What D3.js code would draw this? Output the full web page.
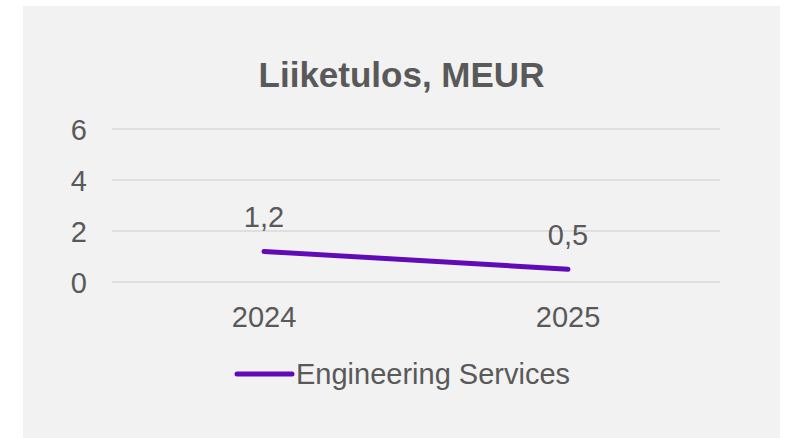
<!DOCTYPE html>
<html>
<head>
<meta charset="utf-8">
<script src="https://cdn.jsdelivr.net/npm/d3@7"></script>
<style>
  html, body { margin: 0; padding: 0; background: #ffffff; }
  svg { display: block; }
  text { font-family: "Liberation Sans", Arial, sans-serif; fill: #595959; }
</style>
</head>
<body>
<svg id="chart" width="790" height="438"></svg>
<script>
// Operating profit, MEUR
const title = "Liiketulos, MEUR";
const categories = ["2024", "2025"];
const seriesName = "Engineering Services";
const seriesValues = [1.2, 0.5];
const yTicks = [0, 2, 4, 6];

const panel = { x: 23, y: 6, w: 757, h: 432 };
const plot = { left: 112, right: 720, top: 129, bottom: 282 };
const lineColor = "#600ab8";
const gridColor = "#d9d9d9";
const fontSize = 29;

const fiLocale = d3.formatLocale({ decimal: ",", thousands: "\u00a0", grouping: [3], currency: ["", " €"] });
const fmt = fiLocale.format(".1f");

const svg = d3.select("#chart");

svg.append("rect")
  .attr("x", panel.x).attr("y", panel.y)
  .attr("width", panel.w).attr("height", panel.h)
  .attr("fill", "#f2f2f2");

const x = d3.scaleBand().domain(categories).range([plot.left, plot.right]);
const y = d3.scaleLinear().domain([0, 6]).range([plot.bottom, plot.top]);

// Title
svg.append("text")
  .attr("x", panel.x + panel.w / 2)
  .attr("y", 87)
  .attr("text-anchor", "middle")
  .style("font-size", "35px")
  .style("font-weight", "bold")
  .text(title);

// Gridlines
svg.append("g")
  .selectAll("line")
  .data(yTicks)
  .join("line")
  .attr("x1", plot.left).attr("x2", plot.right)
  .attr("y1", d => y(d)).attr("y2", d => y(d))
  .attr("stroke", gridColor)
  .attr("stroke-width", 1.5);

// Y axis
const yAxis = svg.append("g")
  .attr("transform", `translate(${plot.left},0)`)
  .call(d3.axisLeft(y).tickValues(yTicks).tickSize(0).tickPadding(25).tickFormat(d3.format("d")));
yAxis.select(".domain").remove();
yAxis.selectAll("text")
  .style("font-size", fontSize + "px")
  .attr("fill", "#595959")
  .attr("dy", "0.35em");

// X axis
const xAxis = svg.append("g")
  .attr("transform", `translate(0,${plot.bottom})`)
  .call(d3.axisBottom(x).tickSize(0).tickPadding(0));
xAxis.select(".domain").remove();
xAxis.selectAll("text")
  .style("font-size", fontSize + "px")
  .attr("fill", "#595959")
  .attr("dy", null)
  .attr("y", 45);

// Series line
const points = categories.map((c, i) => ({ c, v: seriesValues[i] }));
const line = d3.line()
  .x(d => x(d.c) + x.bandwidth() / 2)
  .y(d => y(d.v));

svg.append("path")
  .datum(points)
  .attr("d", line)
  .attr("fill", "none")
  .attr("stroke", lineColor)
  .attr("stroke-width", 5)
  .attr("stroke-linecap", "round")
  .attr("stroke-linejoin", "round");

// Data labels
svg.append("g")
  .selectAll("text")
  .data(points)
  .join("text")
  .attr("x", d => x(d.c) + x.bandwidth() / 2)
  .attr("y", d => y(d.v) - 24)
  .attr("text-anchor", "middle")
  .style("font-size", fontSize + "px")
  .text(d => fmt(d.v));

// Legend
const legend = svg.append("g").attr("transform", "translate(237,374)");
legend.append("line")
  .attr("x1", 0).attr("x2", 55)
  .attr("y1", 0).attr("y2", 0)
  .attr("stroke", lineColor)
  .attr("stroke-width", 5)
  .attr("stroke-linecap", "round");
legend.append("text")
  .attr("x", 59)
  .attr("y", 10)
  .style("font-size", fontSize + "px")
  .text(seriesName);
</script>
</body>
</html>
